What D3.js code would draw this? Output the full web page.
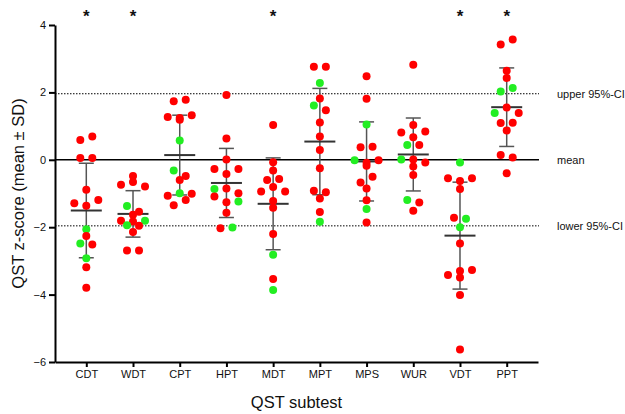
<!DOCTYPE html>
<html>
<head>
<meta charset="utf-8">
<script src="https://cdn.jsdelivr.net/npm/d3@7"></script>
<style>
  body { margin: 0; background: #fff; }
  text { font-family: "Liberation Sans", Arial, Helvetica, sans-serif; fill: #111; }
</style>
</head>
<body>
<div id="chart"></div>
<script>
// QST subtests and z-scores per subject
var subtests = ["CDT", "WDT", "CPT", "HPT", "MDT", "MPT", "MPS", "WUR", "VDT", "PPT"];

var zScores = [
    [0.59, 0.69, 0.05, 0.05, -0.89, -1.29, -1.36, -1.19, -2.06, -2.26, -2.48, -2.51, -2.92, -3.19, -3.80],
    [-0.48, -0.74, -0.66, -0.79, -1.37, -1.54, -1.63, -1.81, -1.83, -1.81, -1.94, -1.96, -2.14, -2.69, -2.69],
    [1.74, 1.78, 1.27, 1.24, 1.32, 1.19, 0.57, -0.32, -0.48, -0.60, -1.07, -0.99, -1.01, -1.35, -1.19],
    [1.92, 0.63, 0.01, -0.27, -0.42, -0.27, -0.87, -0.85, -0.99, -1.09, -1.26, -1.24, -1.57, -2.03, -2.01],
    [1.03, -0.07, -0.32, -0.60, -0.57, -0.94, -0.81, -0.94, -1.22, -1.42, -2.20, -2.82, -3.54, -3.86],
    [2.76, 2.76, 2.28, 1.82, 1.61, 1.47, 1.11, 0.69, 0.29, -0.25, -0.92, -0.96, -1.15, -1.55, -1.84],
    [2.48, 1.81, 1.05, 0.37, 0.39, -0.01, -0.09, -0.01, -0.18, -0.67, -0.50, -0.85, -1.20, -1.46, -1.86],
    [2.82, 1.03, 0.81, 0.67, 0.84, 0.44, 0.44, 0.01, 0.01, -0.08, -0.20, -0.45, -1.19, -1.27, -1.51],
    [-0.08, -0.55, -0.63, -0.55, -0.87, -1.72, -1.75, -2.00, -2.48, -3.42, -3.30, -3.27, -3.49, -4.01, -5.63],
    [3.42, 3.57, 2.64, 2.43, 2.03, 2.13, 1.39, 1.55, 1.39, 1.09, 1.10, 0.87, 0.14, 0.07, -0.40]
];

// which subjects (index within each subtest) are drawn green
var greenIdx = [
    [8, 10, 12],
    [4, 9, 10],
    [6, 7, 11],
    [6, 11, 14],
    [11, 13],
    [2, 4, 14],
    [2, 5, 13],
    [5, 7, 12],
    [0, 6, 7],
    [4, 5, 6]
];

var significant = ["CDT", "WDT", "MDT", "VDT", "PPT"];
var yTicks = [-6, -4, -2, 0, 2, 4];
var refValues = [1.96, 0, -1.96];
var refLabels = ["upper 95%-CI", "mean", "lower 95%-CI"];

var totalWidth = 625, totalHeight = 414;
var plot = {left: 55, right: 538, top: 25, bottom: 362};

var svg = d3.select("#chart").append("svg")
    .attr("width", totalWidth)
    .attr("height", totalHeight);

var x_scale = d3.scalePoint()
    .domain(subtests)
    .range([plot.left, plot.right])
    .padding(0.67);
var y_scale = d3.scaleLinear()
    .domain([-6, 4])
    .range([plot.bottom, plot.top]);

// reference lines
svg.append("g").selectAll("line")
    .data(refValues)
    .enter()
    .append("line")
    .attr("x1", plot.left)
    .attr("x2", plot.right + 1)
    .attr("y1", function(d){ return y_scale(d); })
    .attr("y2", function(d){ return y_scale(d); })
    .attr("stroke", "#000")
    .attr("stroke-width", function(d){ return d === 0 ? 1.6 : 1; })
    .attr("stroke-dasharray", function(d){ return d === 0 ? null : "1.5,1.5"; });

svg.append("g").selectAll("text")
    .data(refValues)
    .enter()
    .append("text")
    .attr("x", 557)
    .attr("y", function(d){ return y_scale(d); })
    .attr("dy", "0.35em")
    .style("font-size", "11px")
    .text(function(d, i){ return refLabels[i]; });

// beeswarm-ish rows: close values share a row, spread horizontally
var dotR = 4, spacing = 12;
function layout(values) {
    var order = d3.range(values.length).sort(function(a, b){ return values[b] - values[a] || a - b; });
    var offsets = new Array(values.length), rows = [], row = null;
    order.forEach(function(i){
        if (row && row.length < 3 && Math.abs(y_scale(values[i]) - y_scale(values[row[0]])) < 6) row.push(i);
        else { row = [i]; rows.push(row); }
    });
    rows.forEach(function(r){
        r.sort(d3.ascending);
        r.forEach(function(i, k){ offsets[i] = (k - (r.length - 1) / 2) * spacing; });
    });
    return offsets;
}

var points = [], stats = [];
subtests.forEach(function(name, c){
    var vals = zScores[c];
    var offs = layout(vals);
    vals.forEach(function(v, i){
        points.push({test: name, value: v, dx: offs[i], green: greenIdx[c].indexOf(i) >= 0});
    });
    stats.push({test: name, mean: d3.mean(vals), sd: d3.deviation(vals)});
});

// error bars (mean ± SD)
var bars = svg.append("g");
bars.selectAll(".sd")
    .data(stats)
    .enter()
    .append("line")
    .attr("x1", function(d){ return x_scale(d.test); })
    .attr("x2", function(d){ return x_scale(d.test); })
    .attr("y1", function(d){ return y_scale(d.mean + d.sd); })
    .attr("y2", function(d){ return y_scale(d.mean - d.sd); })
    .attr("stroke", "#555")
    .attr("stroke-width", 1.5);
[1, -1].forEach(function(sign){
    bars.selectAll(".cap" + sign)
        .data(stats)
        .enter()
        .append("line")
        .attr("x1", function(d){ return x_scale(d.test) - 7.5; })
        .attr("x2", function(d){ return x_scale(d.test) + 7.5; })
        .attr("y1", function(d){ return y_scale(d.mean + sign * d.sd); })
        .attr("y2", function(d){ return y_scale(d.mean + sign * d.sd); })
        .attr("stroke", "#555")
        .attr("stroke-width", 1.5);
});
bars.selectAll(".mean")
    .data(stats)
    .enter()
    .append("line")
    .attr("x1", function(d){ return x_scale(d.test) - 15.5; })
    .attr("x2", function(d){ return x_scale(d.test) + 15.5; })
    .attr("y1", function(d){ return y_scale(d.mean); })
    .attr("y2", function(d){ return y_scale(d.mean); })
    .attr("stroke", "#333")
    .attr("stroke-width", 2);

// dots
svg.append("g").selectAll("circle")
    .data(points)
    .enter()
    .append("circle")
    .attr("cx", function(d){ return x_scale(d.test) + d.dx; })
    .attr("cy", function(d){ return y_scale(d.value); })
    .attr("r", dotR)
    .attr("fill", function(d){ return d.green ? "#22ee22" : "#ff0000"; });

// axes
var yAxis = d3.axisLeft(y_scale).tickValues(yTicks).tickSize(6).tickSizeOuter(0).tickPadding(3);
var xAxis = d3.axisBottom(x_scale).tickSize(5).tickSizeOuter(0).tickPadding(3);

var gy = svg.append("g").attr("transform", "translate(" + plot.left + ",0)").call(yAxis);
var gx = svg.append("g").attr("transform", "translate(0," + plot.bottom + ")").call(xAxis);
[gx, gy].forEach(function(g){
    g.select(".domain").attr("stroke", "#000").attr("stroke-width", 2);
    g.selectAll(".tick line").attr("stroke", "#000").attr("stroke-width", 2);
    g.selectAll(".tick text")
        .style("font-family", "\"Liberation Sans\", Arial, Helvetica, sans-serif")
        .style("font-size", "11px")
        .attr("fill", "#111");
});

// significance stars
svg.append("g").selectAll("text")
    .data(significant)
    .enter()
    .append("text")
    .attr("x", function(d){ return x_scale(d); })
    .attr("y", 21.5)
    .attr("text-anchor", "middle")
    .style("font-size", "17px")
    .style("font-weight", "bold")
    .text("*");

// axis titles
svg.append("text")
    .attr("transform", "translate(24," + ((plot.top + plot.bottom) / 2) + ") rotate(-90)")
    .attr("text-anchor", "middle")
    .style("font-size", "16.5px")
    .text("QST z-score (mean \u00b1 SD)");

svg.append("text")
    .attr("x", (plot.left + plot.right) / 2)
    .attr("y", 408)
    .attr("text-anchor", "middle")
    .style("font-size", "16.5px")
    .text("QST subtest");
</script>
</body>
</html>
